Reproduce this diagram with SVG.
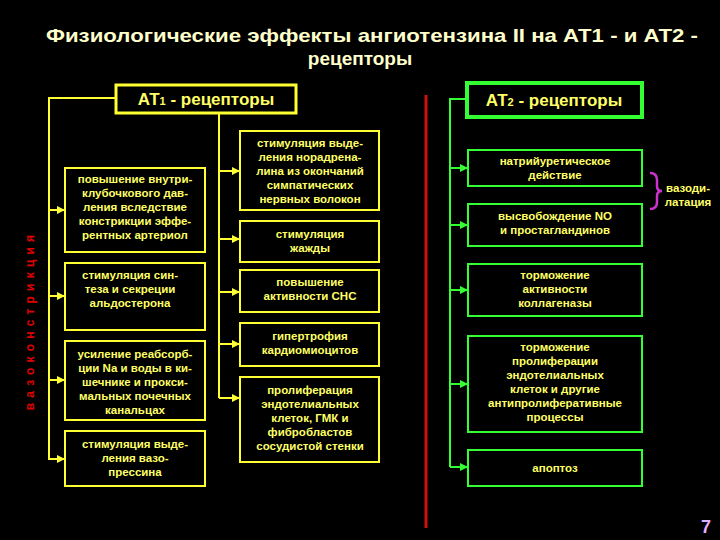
<svg xmlns="http://www.w3.org/2000/svg" width="720" height="540" viewBox="0 0 720 540">
<defs>
<marker id="ay" markerWidth="8" markerHeight="8" refX="7" refY="4" orient="auto" markerUnits="userSpaceOnUse"><path d="M0,0 L8,4 L0,8 Z" fill="#ffff33"/></marker>
<marker id="ag" markerWidth="8" markerHeight="8" refX="7" refY="4" orient="auto" markerUnits="userSpaceOnUse"><path d="M0,0 L8,4 L0,8 Z" fill="#33ff33"/></marker>
</defs>
<style>
text{font-family:"Liberation Sans",Arial,sans-serif;font-weight:bold;text-anchor:middle}
.t{fill:#ffff66;font-size:11.5px}
.by{fill:none;stroke:#ffff33;stroke-width:2}
.bg{fill:none;stroke:#33ff33;stroke-width:2}
.ly{stroke:#ffff33;stroke-width:2;fill:none}
.lg{stroke:#33ff33;stroke-width:2;fill:none}
</style>
<rect width="720" height="540" fill="#000"/>
<text x="372" y="42" fill="#ffffcc" font-size="19" textLength="652" lengthAdjust="spacingAndGlyphs">Физиологические эффекты ангиотензина II на АТ1 -  и АТ2 -</text>
<text x="360" y="65" fill="#ffffcc" font-size="19">рецепторы</text>
<text transform="translate(34,320) rotate(-90)" fill="#e00000" font-size="12" letter-spacing="5.2">вазоконстрикция</text>
<line x1="426" y1="95" x2="426" y2="528" stroke="#cc1111" stroke-width="3"/>
<g id="connectors">
<path class="ly" d="M115,98 H49 V460"/>
<path class="ly" d="M219,113 V398"/>
<line class="ly" x1="49" y1="210" x2="64" y2="210" marker-end="url(#ay)"/>
<line class="ly" x1="49" y1="296" x2="64" y2="296" marker-end="url(#ay)"/>
<line class="ly" x1="49" y1="380" x2="64" y2="380" marker-end="url(#ay)"/>
<line class="ly" x1="49" y1="459" x2="64" y2="459" marker-end="url(#ay)"/>
<line class="ly" x1="219" y1="171" x2="239" y2="171" marker-end="url(#ay)"/>
<line class="ly" x1="219" y1="239" x2="239" y2="239" marker-end="url(#ay)"/>
<line class="ly" x1="219" y1="292" x2="239" y2="292" marker-end="url(#ay)"/>
<line class="ly" x1="219" y1="344" x2="239" y2="344" marker-end="url(#ay)"/>
<line class="ly" x1="219" y1="398" x2="239" y2="398" marker-end="url(#ay)"/>
<path class="lg" d="M467,99 H450 V467"/>
<line class="lg" x1="450" y1="168" x2="467" y2="168" marker-end="url(#ag)"/>
<line class="lg" x1="450" y1="225" x2="467" y2="225" marker-end="url(#ag)"/>
<line class="lg" x1="450" y1="290" x2="467" y2="290" marker-end="url(#ag)"/>
<line class="lg" x1="450" y1="384" x2="467" y2="384" marker-end="url(#ag)"/>
<line class="lg" x1="450" y1="467" x2="467" y2="467" marker-end="url(#ag)"/>
</g>
<g id="at1"><rect x="116" y="85" width="180" height="28" fill="none" stroke="#ffff33" stroke-width="3"/>
<text x="206" y="105" fill="#ffff66" font-size="17">АТ<tspan font-size="11">1</tspan> - рецепторы</text></g>
<g id="at2"><rect x="467" y="83" width="175" height="34" fill="none" stroke="#33ff33" stroke-width="4"/>
<text x="554" y="106" fill="#ffff66" font-size="17">АТ<tspan font-size="11">2</tspan> - рецепторы</text></g>
<g id="l1"><rect class="by" x="65" y="168" width="140" height="84"/>
<text class="t" x="135" y="183">повышение внутри-</text><text class="t" x="135" y="197">клубочкового дав-</text><text class="t" x="135" y="211">ления вследствие</text><text class="t" x="135" y="225">констрикции эффе-</text><text class="t" x="135" y="239">рентных артериол</text></g>
<g id="l2"><rect class="by" x="65" y="263" width="140" height="67"/>
<text class="t" x="130" y="279">стимуляция син-</text><text class="t" x="130" y="293">теза и секреции</text><text class="t" x="130" y="307">альдостерона</text></g>
<g id="l3"><rect class="by" x="65" y="341" width="140" height="79"/>
<text class="t" x="135" y="358">усиление реабсорб-</text><text class="t" x="135" y="372">ции Na и воды в ки-</text><text class="t" x="135" y="386">шечнике и прокси-</text><text class="t" x="135" y="400">мальных почечных</text><text class="t" x="135" y="414">канальцах</text></g>
<g id="l4"><rect class="by" x="65" y="431" width="140" height="55"/>
<text class="t" x="135" y="448">стимуляция  выде-</text><text class="t" x="135" y="462">ления вазо-</text><text class="t" x="135" y="476">прессина</text></g>
<g id="r1"><rect class="by" x="240" y="131" width="139" height="79"/>
<text class="t" x="310" y="147">стимуляция выде-</text><text class="t" x="310" y="161">ления норадрена-</text><text class="t" x="310" y="175">лина из окончаний</text><text class="t" x="310" y="189">симпатических</text><text class="t" x="310" y="203">нервных волокон</text></g>
<g id="r2"><rect class="by" x="240" y="221" width="139" height="41"/>
<text class="t" x="310" y="238">стимуляция</text><text class="t" x="310" y="252">жажды</text></g>
<g id="r3"><rect class="by" x="240" y="270" width="139" height="42"/>
<text class="t" x="310" y="286">повышение</text><text class="t" x="310" y="300">активности СНС</text></g>
<g id="r4"><rect class="by" x="240" y="323" width="139" height="43"/>
<text class="t" x="310" y="340">гипертрофия</text><text class="t" x="310" y="354">кардиомиоцитов</text></g>
<g id="r5"><rect class="by" x="240" y="377" width="139" height="85"/>
<text class="t" x="310" y="394">пролиферация</text><text class="t" x="310" y="408">эндотелиальных</text><text class="t" x="310" y="422">клеток, ГМК и</text><text class="t" x="310" y="436">фибробластов</text><text class="t" x="310" y="450">сосудистой стенки</text></g>
<g id="g1"><rect class="bg" x="468" y="150" width="174" height="36"/>
<text class="t" x="555" y="165">натрийуретическое</text><text class="t" x="555" y="179">действие</text></g>
<g id="g2"><rect class="bg" x="468" y="204" width="174" height="42"/>
<text class="t" x="555" y="220">высвобождение NO</text><text class="t" x="555" y="234">и простагландинов</text></g>
<g id="g3"><rect class="bg" x="468" y="264" width="174" height="52"/>
<text class="t" x="555" y="279">торможение</text><text class="t" x="555" y="293">активности</text><text class="t" x="555" y="307">коллагеназы</text></g>
<g id="g4"><rect class="bg" x="468" y="336" width="174" height="96"/>
<text class="t" x="555" y="351">торможение</text><text class="t" x="555" y="365">пролиферации</text><text class="t" x="555" y="379">эндотелиальных</text><text class="t" x="555" y="393">клеток и другие</text><text class="t" x="555" y="407">антипролиферативные</text><text class="t" x="555" y="421">процессы</text></g>
<g id="g5"><rect class="bg" x="468" y="450" width="174" height="36"/>
<text class="t" x="555" y="472">апоптоз</text></g>
<g id="brace"><path d="M650,173 Q657,173 657,180 V186 Q657,191 662,191 Q657,191 657,196 V202 Q657,209 650,209" fill="none" stroke="#cc33cc" stroke-width="2.5"/>
<text class="t" x="688" y="192">вазоди-</text><text class="t" x="688" y="206">латация</text></g>
<text x="706" y="533" fill="#e0b0ff" font-size="18">7</text>
</svg>
